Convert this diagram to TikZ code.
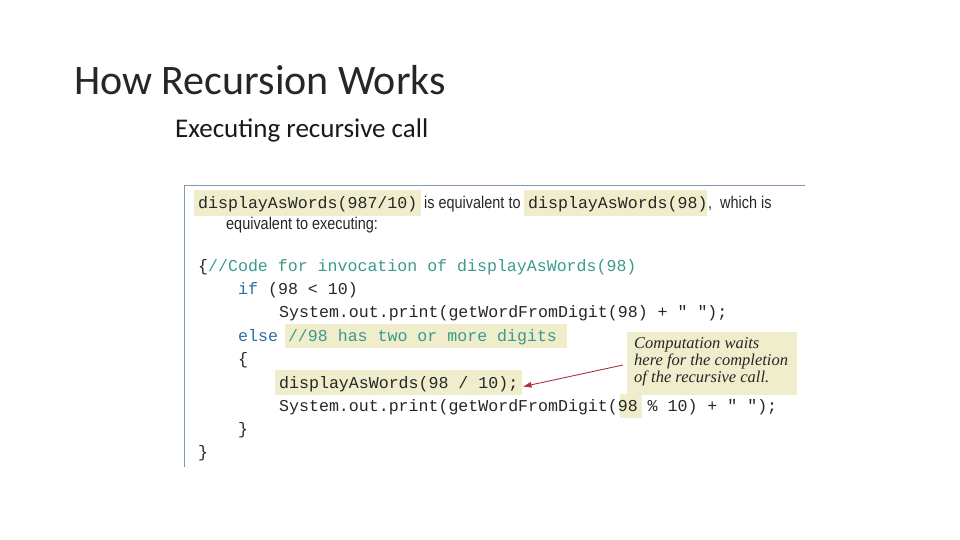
\documentclass[tikz,border=0pt]{standalone}
\usepackage{fontspec}
\usetikzlibrary{arrows.meta}
\setmainfont{Carlito}
\newfontfamily\codef{Liberation Mono}
\newfontfamily\narrowf[FakeStretch=0.85]{Liberation Sans}
\newfontfamily\notef{Liberation Serif}
\definecolor{hl}{HTML}{EFEDCB}
\definecolor{cmt}{HTML}{3C9A8C}
\definecolor{kw}{HTML}{2E6DA8}
\definecolor{frame}{HTML}{7E98B0}
\definecolor{arr}{HTML}{B0303E}
\tikzset{
 code/.style={anchor=base west,inner sep=0pt,font=\codef\fontsize{16.6}{18}\selectfont,text=black!85},
 txt/.style={anchor=base west,inner sep=0pt,font=\narrowf\fontsize{17}{18}\selectfont,text=black!85},
}
\begin{document}
\begin{tikzpicture}[x=1pt,y=-1pt]
\useasboundingbox (0,0) rectangle (960,540);
\node[anchor=base west,inner sep=0pt,font=\fontsize{42}{46}\selectfont,text=black!85] (title) at (74,95) {How Recursion Works};
\node[anchor=base west,inner sep=0pt,font=\fontsize{27}{30}\selectfont,text=black!90] (sub) at (175,138) {Executing recursive call};
% frame
\draw[frame,line width=1pt] (805,185) -- (184,185) -- (184,467);
% highlights
\fill[hl] (194,190) rectangle (421,216);
\fill[hl] (524,190) rectangle (707,216);
\fill[hl] (285,324) rectangle (567,348);
\fill[hl] (275,370) rectangle (522,395);
\fill[hl] (620,394) rectangle (642,418);
\fill[hl] (627,332) rectangle (797,395);
% header
\node[code] (h1) at (198,208) {displayAsWords(987/10)};
\node[txt] (h2) at (424,208) {is equivalent to};
\node[code] (h3) at (528,208) {displayAsWords(98)};
\node[txt] (h4) at (708,208) {,\ \ which is};
\node[txt] (h5) at (226,229) {equivalent to executing:};
% code
\node[code] (c1) at (198,271) {\{\textcolor{cmt}{//Code for invocation of displayAsWords(98)}};
\node[code] (c2) at (238,294) {\textcolor{kw}{if} (98 < 10)};
\node[code] (c3) at (279,317) {System.out.print(getWordFromDigit(98) + " ");};
\node[code] (c4) at (238,341) {\textcolor{kw}{else} \textcolor{cmt}{//98 has two or more digits}};
\node[code] (c5) at (238,364) {\{};
\node[code] (c6) at (279,388) {displayAsWords(98 / 10);};
\node[code] (c7) at (279,411) {System.out.print(getWordFromDigit(98 \% 10) + " ");};
\node[code] (c8) at (238,434) {\}};
\node[code] (c9) at (198,457) {\}};
% note
\node[anchor=north west,inner sep=0pt,align=left,font=\notef\itshape\fontsize{16.5}{17}\selectfont,text=black!85] (note) at (634,337) {Computation waits\\here for the completion\\of the recursive call.};
\coordinate (as) at (623,365);
\draw[arr,line width=0.9pt,-{Latex[length=9pt,width=6pt]}] (as) -- ([xshift=4pt,yshift=-3pt]c6.east);
\end{tikzpicture}
\end{document}
